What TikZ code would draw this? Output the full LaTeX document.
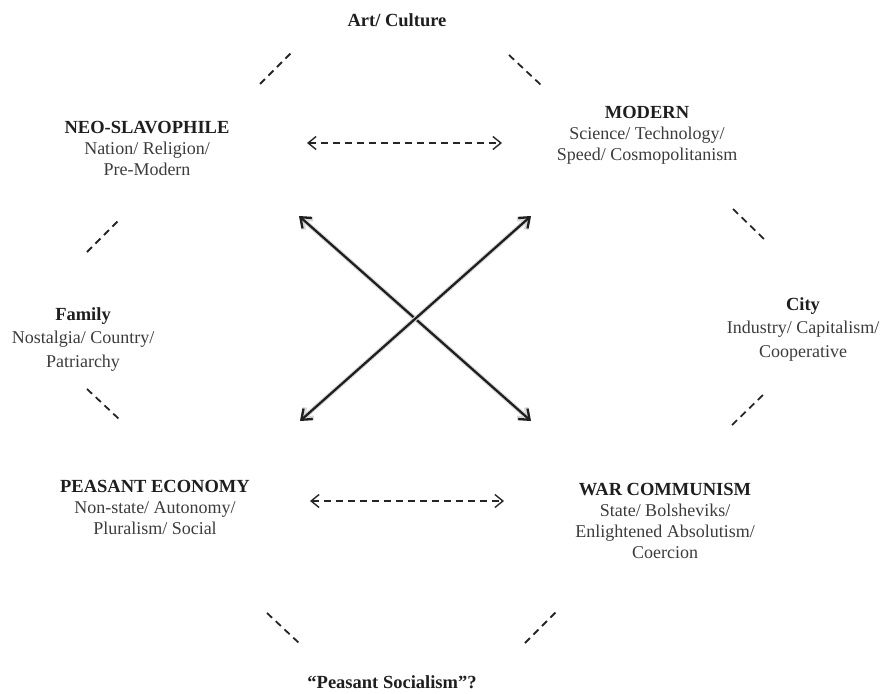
\documentclass[tikz,border=0pt]{standalone}
\usepackage{fontspec}
\setmainfont{Liberation Serif}
\usetikzlibrary{arrows.meta}
\definecolor{bodygray}{HTML}{3C3C3C}
\definecolor{titlegray}{HTML}{1E1E1E}
\newcommand{\ttl}[1]{{\fontsize{18.5}{21}\selectfont\textbf{\color{titlegray}#1}}}
\begin{document}
\begin{tikzpicture}[x=1pt,y=-1pt,
  lbl/.style={anchor=north, inner sep=0pt, align=center, text=bodygray,
    font=\fontsize{18}{21}\selectfont},
  widelbl/.style={lbl, font=\fontsize{18}{23.5}\selectfont},
  octedge/.style={draw=black!85, line width=1.8pt, dash pattern=on 7pt off 5pt},
  duality/.style={draw=black!85, line width=1.4pt, dash pattern=on 7pt off 5pt,
    {Straight Barb[length=8pt,width=13pt]}-{Straight Barb[length=8pt,width=13pt]}},
  crossarrow/.style={draw=black!88, line width=2.3pt,
    {Straight Barb[length=9pt,width=14pt]}-{Straight Barb[length=9pt,width=14pt]}}
]
\useasboundingbox (0,0) rectangle (882,693);

% labels
\node[lbl] (art) at (397,13) {\ttl{Art/ Culture}};
\node[lbl] (neo) at (147,121) {\ttl{NEO-SLAVOPHILE}\\Nation/ Religion/\\Pre-Modern};
\node[lbl] (modern) at (647,106) {\ttl{MODERN}\\Science/ Technology/\\Speed/ Cosmopolitanism};
\node[widelbl] (family) at (83,307) {\ttl{Family}\\Nostalgia/ Country/\\Patriarchy};
\node[widelbl] (city) at (803,297) {\ttl{City}\\Industry/ Capitalism/\\Cooperative};
\node[lbl] (peasant) at (155,480) {\ttl{PEASANT ECONOMY}\\Non-state/ Autonomy/\\Pluralism/ Social};
\node[lbl] (war) at (665,483) {\ttl{WAR COMMUNISM}\\State/ Bolsheviks/\\Enlightened Absolutism/\\Coercion};
\node[lbl] (psoc) at (392,675) {\ttl{“Peasant Socialism”?}};

% octagon edges
\coordinate (e1a) at (260,84); \coordinate (e1b) at (292,52);
\coordinate (e2a) at (509,55); \coordinate (e2b) at (541,85);
\coordinate (e3a) at (87,252); \coordinate (e3b) at (119,220);
\coordinate (e4a) at (733,209); \coordinate (e4b) at (765,240);
\coordinate (e5a) at (87,389); \coordinate (e5b) at (119,419);
\coordinate (e6a) at (732,425); \coordinate (e6b) at (765,393);
\coordinate (e7a) at (267,613); \coordinate (e7b) at (299,643);
\coordinate (e8a) at (525,643); \coordinate (e8b) at (557,611);
\foreach \i in {1,...,8} \draw[octedge] (e\i a) -- (e\i b);

% dashed duality arrows
\coordinate (d1a) at (307,143); \coordinate (d1b) at (502,143);
\coordinate (d2a) at (310,501); \coordinate (d2b) at (504,501);
\draw[duality] (d1a) -- (d1b);
\draw[duality] (d2a) -- (d2b);

% crossing arrows
\coordinate (xtl) at (299,216); \coordinate (xtr) at (531,216);
\coordinate (xbl) at (300,421); \coordinate (xbr) at (531,421);
\draw[crossarrow, preaction={draw=black!15, line width=4.5pt}] (xtl) -- (xbr);
\draw[crossarrow, preaction={draw=black!15, line width=4.5pt}] (xtr) -- (xbl);
\end{tikzpicture}
\end{document}
